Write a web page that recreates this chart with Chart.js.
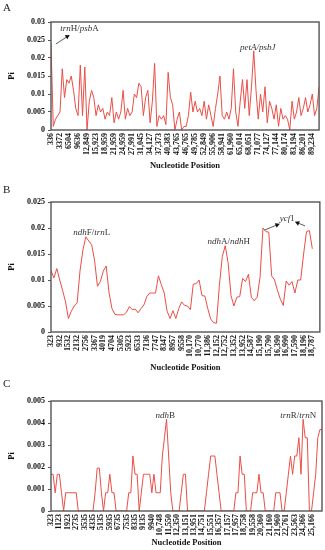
<!DOCTYPE html>
<html>
<head>
<meta charset="utf-8">
<script src="https://cdn.jsdelivr.net/npm/chart.js@4.4.0/dist/chart.umd.min.js"></script>
<style>
  body { margin: 0; background: #fff; width: 325px; height: 550px; position: relative; overflow: hidden; }
  canvas { position: absolute; left: 0; }
  .tag { position: absolute; left: 3px; font: 11px 'Liberation Serif', 'Times New Roman', serif; line-height: 11px; color: #222; z-index: 2; }
</style>
</head>
<body>
<canvas id="chartA" width="325" height="171" style="top:0"></canvas>
<canvas id="chartB" width="325" height="193" style="top:180px"></canvas>
<canvas id="chartC" width="325" height="172" style="top:376px"></canvas>
<div class="tag" style="top:2px">A</div>
<div class="tag" style="top:184px">B</div>
<div class="tag" style="top:378px">C</div>
<script>
// ---- panel A : LSC ----
const ticksA = ['336', '3372', '6504', '9636', '12,849', '15,923', '18,959', '21,959', '24,959', '27,991',
  '31,045', '34,127', '37,373', '40,383', '43,765', '46,765', '49,785', '52,849', '55,906', '58,941',
  '61,960', '65,014', '68,051', '71,077', '74,127', '77,144', '80,174', '83,194', '86,201', '89,234'];
const piA = [
  0.024, 0.001, 0.003, 0.004, 0.005, 0.017, 0.009, 0.014, 0.013, 0.015,
  0.011, 0.006, 0.004, 0.018, 0.004, 0.0175, 0.000, 0.008, 0.011, 0.009,
  0.004, 0.007, 0.005, 0.006, 0.003, 0.005, 0.004, 0.009, 0.002, 0.005,
  0.003, 0.005, 0.011, 0.003, 0.006, 0.004, 0.005, 0.010, 0.009, 0.013,
  0.012, 0.004, 0.009, 0.011, 0.002, 0.008, 0.0185, 0.001, 0.004, 0.003,
  0.004, 0.0015, 0.016, 0.009, 0.007, 0.000, 0.003, 0.005, 0.000, 0.001,
  0.001, 0.004, 0.0105, 0.005, 0.008, 0.005, 0.006, 0.004, 0.008, 0.003,
  0.007, 0.004, 0.001, 0.006, 0.010, 0.015, 0.004, 0.003, 0.005, 0.003,
  0.006, 0.017, 0.005, 0.001, 0.008, 0.014, 0.006, 0.014, 0.004, 0.012,
  0.022, 0.011, 0.003, 0.010, 0.005, 0.012, 0.002, 0.008, 0.006, 0.003,
  0.007, 0.001, 0.006, 0.003, 0.004, 0.003, 0.000, 0.008, 0.003, 0.005,
  0.009, 0.004, 0.006, 0.009, 0.005, 0.007, 0.010, 0.004, 0.006, 0.012];
const yTicksA = ['0', '0.005', '0.01', '0.015', '0.02', '0.025', '0.03'];

// ---- panel B : SSC ----
const ticksB = ['323', '932', '1532', '2132', '2756', '3367', '4019', '4704', '5305', '5923', '6533',
  '7136', '7747', '8347', '8957', '9558', '10,170', '10,770', '11,386', '12,152', '12,752',
  '13,352', '13,952', '14,587', '15,190', '15,790', '16,390', '16,990', '17,590', '18,196', '18,787'];
const piB = [
  0.0118, 0.0104, 0.0122, 0.0100, 0.0080, 0.0058, 0.0026, 0.0040, 0.0050, 0.0056,
  0.0118, 0.0158, 0.0183, 0.0175, 0.0168, 0.0138, 0.0088, 0.0097, 0.0117, 0.0127,
  0.0075, 0.0045, 0.0034, 0.0033, 0.0033, 0.0033, 0.0038, 0.0049, 0.0043, 0.0044,
  0.0037, 0.0045, 0.0052, 0.0068, 0.0075, 0.0075, 0.0075, 0.0108, 0.0091, 0.0075,
  0.0040, 0.0026, 0.0041, 0.0026, 0.0045, 0.0058, 0.0051, 0.0050, 0.0043, 0.0092,
  0.0093, 0.0100, 0.0070, 0.0069, 0.0045, 0.0025, 0.0018, 0.0017, 0.0090, 0.0145,
  0.0166, 0.0133, 0.0070, 0.0050, 0.0067, 0.0068, 0.0103, 0.0097, 0.0111, 0.0067,
  0.0060, 0.0067, 0.0105, 0.0200, 0.0193, 0.0192, 0.0108, 0.0100, 0.0080, 0.0063,
  0.0051, 0.0098, 0.0090, 0.0097, 0.0075, 0.0100, 0.0100, 0.0150, 0.0193, 0.0195,
  0.0160];
const yTicksB = ['0', '0.005', '0.01', '0.015', '0.02', '0.025'];

// ---- panel C : IR ----
const ticksC = ['323', '1123', '1923', '2735', '3535', '4335', '5135', '5935', '6735', '7535', '8335',
  '9135', '9940', '10,748', '11,550', '12,350', '13,151', '13,951', '14,751', '15,551', '16,357',
  '17,157', '17,957', '18,758', '19,558', '20,360', '21,160', '21,960', '22,761', '23,563', '24,366', '25,166'];
const piC = [
  0.00167, 0.00167, 0.00083, 0.00167, 0.00167, 0.00083, 0, 0.00083, 0.00083, 0.00083,
  0.00083, 0.00083, 0.00083, 0, 0, 0, 0, 0, 0, 0,
  0, 0.00083, 0.00195, 0.00195, 0.00083, 0, 0.00083, 0.00083, 0.00167, 0.00083,
  0.00083, 0, 0, 0, 0, 0, 0, 0.00083, 0.00083, 0.0025,
  0.00167, 0.00167, 0, 0.00083, 0.00167, 0.00167, 0.00167, 0.00167, 0.00083, 0.00167,
  0.00083, 0.00083, 0.00083, 0.0025, 0.00333, 0.00417, 0.0025, 0.00083, 0, 0,
  0, 0, 0.00083, 0.00167, 0.00167, 0, 0, 0, 0, 0,
  0, 0, 0, 0, 0.00083, 0.00167, 0.0025, 0.0025, 0.0025, 0.00167,
  0.00083, 0, 0, 0, 0, 0, 0, 0, 0.00083, 0.00083,
  0.0025, 0.00167, 0.00167, 0, 0, 0, 0.00083, 0.00083, 0.00083, 0.00167,
  0.00083, 0.00083, 0, 0, 0, 0, 0, 0.00083, 0.00083, 0.00083,
  0, 0, 0.00083, 0.00167, 0.0025, 0.00167, 0.0025, 0.0025, 0.00333, 0.00167,
  0.00417, 0.00333, 0.00333, 0, 0, 0.00083, 0.00167, 0.00333, 0.0037, 0.0037];
const yTicksC = ['0', '0.001', '0.002', '0.003', '0.004', '0.005'];

const SERIF = "'Liberation Serif', 'Times New Roman', serif";
const LINE_RED = 'rgb(234, 78, 70)';

// frame around plot + gene labels + arrows
const notesPlugin = {
  id: 'notes',
  afterDatasetsDraw(chart, args, o) {
    const ctx = chart.ctx, a = chart.chartArea;
    const xs = chart.scales.x, ys = chart.scales.y;
    ctx.save();
    ctx.strokeStyle = '#555';
    ctx.lineWidth = 1.4;
    ctx.strokeRect(a.left, a.top, a.right - a.left, a.bottom - a.top);

    (o.items || []).forEach(n => {
      const fonts = n.parts.map(p => (p[1] ? 'italic ' : '') + '9px ' + SERIF);
      const widths = n.parts.map((p, k) => { ctx.font = fonts[k]; return ctx.measureText(p[0]).width; });
      let x = xs.getPixelForValue(n.x) - widths.reduce((s, w) => s + w, 0) / 2;
      const y = ys.getPixelForValue(n.y);
      ctx.fillStyle = '#333';
      ctx.textBaseline = 'middle';
      ctx.textAlign = 'left';
      n.parts.forEach((p, k) => { ctx.font = fonts[k]; ctx.fillText(p[0], x, y); x += widths[k]; });
    });

    (o.arrows || []).forEach(r => {
      const x1 = xs.getPixelForValue(r[0]), y1 = ys.getPixelForValue(r[1]);
      const x2 = xs.getPixelForValue(r[2]), y2 = ys.getPixelForValue(r[3]);
      const ang = Math.atan2(y2 - y1, x2 - x1);
      ctx.strokeStyle = '#333';
      ctx.lineWidth = 0.8;
      ctx.beginPath();
      ctx.moveTo(x1, y1);
      ctx.lineTo(x2 - 3 * Math.cos(ang), y2 - 3 * Math.sin(ang));
      ctx.stroke();
      ctx.fillStyle = '#111';
      ctx.beginPath();
      ctx.moveTo(x2, y2);
      ctx.lineTo(x2 - 5 * Math.cos(ang - 0.5), y2 - 5 * Math.sin(ang - 0.5));
      ctx.lineTo(x2 - 5 * Math.cos(ang + 0.5), y2 - 5 * Math.sin(ang + 0.5));
      ctx.closePath();
      ctx.fill();
    });
    ctx.restore();
  }
};

function panelChart(id, p) {
  const pts = p.values.map((v, i) => ({ x: i, y: v }));
  const tickFont = { family: SERIF, size: 8, weight: 'bold' };
  const titleFont = { family: SERIF, size: 8.5, weight: 'bold' };
  new Chart(document.getElementById(id), {
    type: 'line',
    data: {
      datasets: [{
        data: pts,
        borderColor: LINE_RED,
        borderWidth: 1,
        pointRadius: 0,
        tension: 0,
        fill: false
      }]
    },
    options: {
      responsive: false,
      animation: false,
      layout: { padding: { top: p.padTop, right: 3, left: 0, bottom: 0 } },
      plugins: {
        legend: { display: false },
        tooltip: { enabled: false },
        notes: { items: p.notes, arrows: p.arrows }
      },
      scales: {
        x: {
          type: 'linear',
          min: 0,
          max: p.xMax,
          afterBuildTicks: s => { s.ticks = p.xTicks.map((t, k) => ({ value: k * p.every })); },
          afterFit: s => { s.height = p.xHeight; },
          ticks: {
            autoSkip: false, maxRotation: 90, minRotation: 90, padding: 3,
            color: '#111', font: tickFont,
            callback: (v, k) => p.xTicks[k]
          },
          grid: { display: false, drawTicks: false },
          border: { display: false },
          title: { display: true, text: 'Nucleotide Position', color: '#111', font: titleFont, padding: 0 }
        },
        y: {
          min: 0,
          max: parseFloat(p.yTicks[p.yTicks.length - 1]),
          afterBuildTicks: s => { s.ticks = p.yTicks.map(t => ({ value: parseFloat(t) })); },
          afterFit: s => { s.width = 51; },
          ticks: { padding: 3, color: '#111', font: tickFont, callback: (v, k) => p.yTicks[k] },
          grid: { display: true, drawOnChartArea: false, drawTicks: true, tickLength: 3, color: '#555' },
          border: { display: false },
          title: { display: true, text: 'Pi', color: '#111', font: titleFont, padding: { top: 7, bottom: 0 } }
        }
      }
    },
    plugins: [notesPlugin]
  });
}

panelChart('chartA', {
  values: piA, xTicks: ticksA, yTicks: yTicksA, every: 4, xMax: 119,
  padTop: 22, xHeight: 41,
  notes: [
    { x: 12.7, y: 0.0281, parts: [['trn', true], ['H/', false], ['psb', true], ['A', false]] },
    { x: 91.8, y: 0.0228, parts: [['petA/psbJ', true]] }
  ],
  arrows: [[2.2, 0.0239, 8.3, 0.0264]]
});

panelChart('chartB', {
  values: piB, xTicks: ticksB, yTicks: yTicksB, every: 3, xMax: 92.6,
  padTop: 22, xHeight: 41,
  notes: [
    { x: 14, y: 0.0192, parts: [['ndh', true], ['F/', false], ['trn', true], ['L', false]] },
    { x: 61.2, y: 0.0173, parts: [['ndh', true], ['A/', false], ['ndh', true], ['H', false]] },
    { x: 81.4, y: 0.0218, parts: [['ycf', true], ['1', false]] }
  ],
  arrows: [[73.5, 0.0196, 78.8, 0.0208], [87.5, 0.0204, 84.0, 0.0212]]
});

panelChart('chartC', {
  values: piC, xTicks: ticksC, yTicks: yTicksC, every: 4, xMax: 129,
  padTop: 25, xHeight: 37,
  notes: [
    { x: 54.4, y: 0.00435, parts: [['ndh', true], ['B', false]] },
    { x: 117.7, y: 0.00435, parts: [['trn', true], ['R/', false], ['trn', true], ['N', false]] }
  ],
  arrows: []
});
</script>
</body>
</html>
